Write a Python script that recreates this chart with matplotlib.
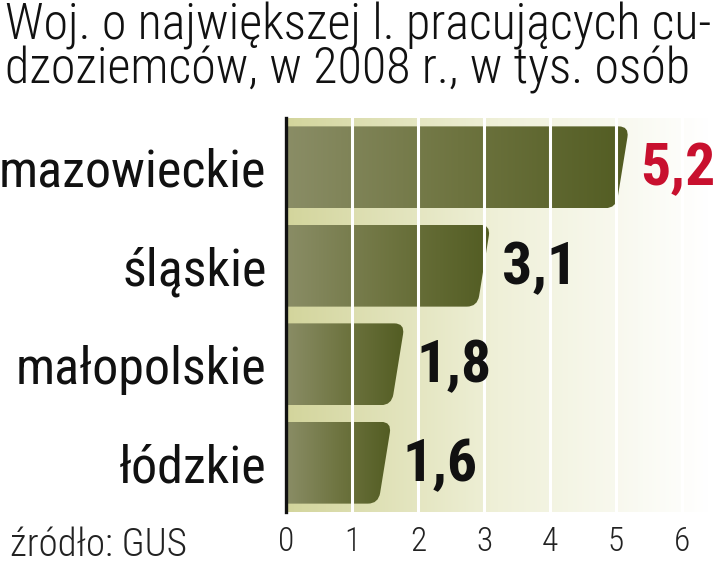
import matplotlib
matplotlib.use("Agg")
import matplotlib.pyplot as plt
import numpy as np
from matplotlib.path import Path
from matplotlib.patches import PathPatch
from matplotlib.colors import LinearSegmentedColormap

categories = ["mazowieckie", "śląskie", "małopolskie", "łódzkie"]
values = [5.2, 3.1, 1.8, 1.6]
label_colors = ["#c8102e", "#111111", "#111111", "#111111"]
xticks = [0, 1, 2, 3, 4, 5, 6]

FONT = ["Roboto Condensed", "DejaVu Sans"]
plt.rcParams["font.family"] = FONT

fig = plt.figure(figsize=(7.2, 5.68), dpi=100)
ax = fig.add_axes([286 / 720, 1 - 512 / 568, 6.4 * 66 / 720, 394 / 568])
xmax = 6.4
ax.set_xlim(0, xmax)
ax.set_ylim(3.5, -0.5)

# background gradient
bg = LinearSegmentedColormap.from_list("bg", ["#d3d59c", "#eff0d8", "#ffffff"])
grad = np.linspace(0, 1, 256).reshape(1, -1)
ax.imshow(grad, cmap=bg, aspect="auto", extent=(0, xmax, 3.5, -0.5), zorder=0)

# bars with slanted, rounded right end
barcm = LinearSegmentedColormap.from_list("bar", ["#8a8d66", "#6e7440", "#525c22"])
h = 0.415
slant = 0.2
rx, ry = 0.16, 0.11
for i, v in enumerate(values):
    yt, yb = i - h, i + h
    f = ry / (2 * h)
    p1 = (v - slant * f, yt + ry)
    p2 = (v - slant * (1 - f), yb - ry)
    verts = [(0, yt), (v - rx, yt), (v, yt), p1, p2, (v - slant, yb),
             (v - slant - rx, yb), (0, yb), (0, yt)]
    codes = [Path.MOVETO, Path.LINETO, Path.CURVE3, Path.CURVE3, Path.LINETO,
             Path.CURVE3, Path.CURVE3, Path.LINETO, Path.CLOSEPOLY]
    patch = PathPatch(Path(verts, codes), facecolor="none", edgecolor="none",
                      transform=ax.transData)
    ax.add_patch(patch)
    im = ax.imshow(grad, cmap=barcm, aspect="auto", extent=(0, v, yb, yt), zorder=1)
    im.set_clip_path(patch)
    ax.text(v + 0.17, i + 0.02, f"{v:.1f}".replace(".", ","), color=label_colors[i],
            fontsize=43, fontweight="bold", va="center", ha="left", zorder=4)

for x in xticks[1:]:
    ax.axvline(x, color="white", lw=2.2, zorder=3)

for s in ["top", "right", "bottom"]:
    ax.spines[s].set_visible(False)
ax.spines["left"].set_linewidth(2.4)
ax.spines["left"].set_color("#111111")
ax.spines["left"].set_zorder(5)

ax.set_xticks(xticks)
ax.set_xticklabels([str(t) for t in xticks], fontsize=24, color="#222222",
                   fontweight="light")
ax.set_yticks(range(len(categories)))
ax.set_yticklabels(categories, fontsize=37.5, color="#111111")
ax.tick_params(axis="x", length=0, pad=10)
ax.tick_params(axis="y", length=0, pad=14)

fig.text(5 / 720, 1 - 40 / 568, "Woj. o największej l. pracujących cu-",
         fontsize=36, va="baseline", ha="left", color="#111111", fontweight="light")
fig.text(5 / 720, 1 - 84 / 568, "dzoziemców, w 2008 r., w tys. osób",
         fontsize=36, va="baseline", ha="left", color="#111111", fontweight="light")
fig.text(10 / 720, 1 - 556 / 568, "źródło: GUS", fontsize=28, va="baseline",
         ha="left", color="#222222", fontweight="light")

fig.savefig("out.png", dpi=100)
